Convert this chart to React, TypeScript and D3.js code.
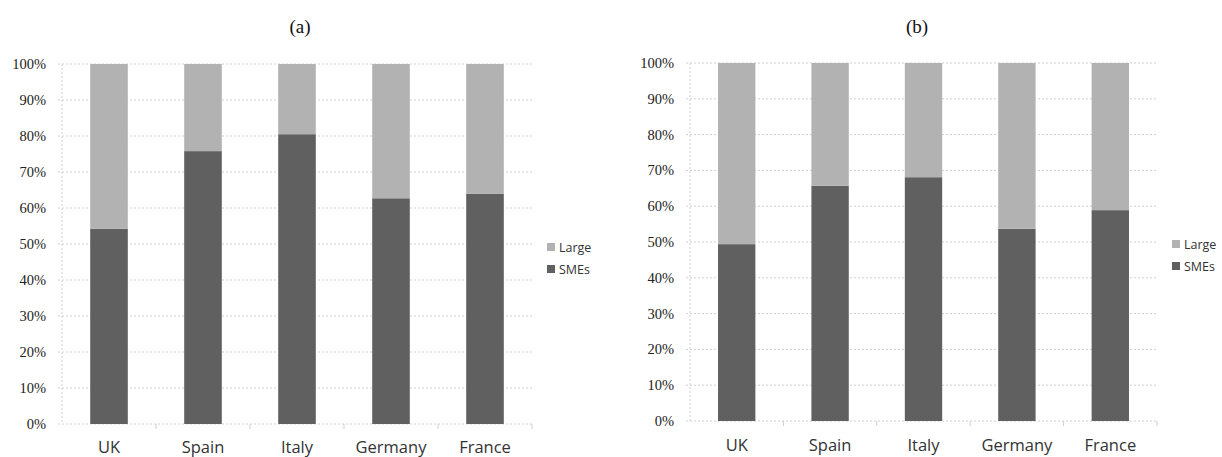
import React from "react";
import * as d3 from "d3";

const categories = ["UK", "Spain", "Italy", "Germany", "France"];
const smesA = [54.2, 75.8, 80.5, 62.7, 64.0];
const largeA = [45.8, 24.2, 19.5, 37.3, 36.0];
const smesB = [49.4, 65.7, 68.1, 53.7, 58.9];
const largeB = [50.6, 34.3, 31.9, 46.3, 41.1];
const yTicks = [0, 10, 20, 30, 40, 50, 60, 70, 80, 90, 100];
const seriesNames = ["SMEs", "Large"];
const colors = { SMEs: "#606060", Large: "#b2b2b2" };

type Cfg = {
  title: string;
  titleX: number;
  x0: number;
  x1: number;
  yTop: number;
  yBot: number;
  labelY: number;
  legendX: number;
  legendY: number;
  smes: number[];
  large: number[];
};

const panels: Cfg[] = [
  { title: "(a)", titleX: 300, x0: 62, x1: 532, yTop: 64, yBot: 424, labelY: 453, legendX: 547, legendY: 269, smes: smesA, large: largeA },
  { title: "(b)", titleX: 917, x0: 690, x1: 1157, yTop: 63, yBot: 421, labelY: 451, legendX: 1172, legendY: 266, smes: smesB, large: largeB },
];

function Panel({ cfg }: { cfg: Cfg }) {
  const x = d3.scaleBand<string>().domain(categories).range([cfg.x0, cfg.x1]).paddingInner(0.6).paddingOuter(0.3);
  const y = d3.scaleLinear().domain([0, 100]).range([cfg.yBot, cfg.yTop]);
  const rows = categories.map((c, i) => ({ cat: c, SMEs: cfg.smes[i], Large: cfg.large[i] }));
  const stack = d3.stack<any>().keys(seriesNames)(rows);
  const step = x.step();
  const grid = "#cfcfcf";
  return (
    <g>
      <text x={cfg.titleX} y={33} textAnchor="middle" fontFamily="'Liberation Serif', serif" fontSize={19} fill="#111">
        {cfg.title}
      </text>
      {yTicks.map((t) => (
        <g key={t}>
          <line x1={cfg.x0 - 4} x2={cfg.x1} y1={y(t)} y2={y(t)} stroke={grid} strokeWidth={1} strokeDasharray="2,2" />
          <text x={cfg.x0 - 16} y={y(t) + 5} textAnchor="end" fontFamily="'Liberation Serif', serif" fontSize={14.5} fill="#222">
            {t}%
          </text>
        </g>
      ))}
      <line x1={cfg.x0} x2={cfg.x0} y1={cfg.yTop} y2={cfg.yBot} stroke={grid} strokeDasharray="2,2" />
      {categories.map((c, i) => (
        <line key={c} x1={cfg.x0 + step * (i + 1)} x2={cfg.x0 + step * (i + 1)} y1={cfg.yBot} y2={cfg.yBot + 5} stroke={grid} />
      ))}
      {stack.map((s) => (
        <g key={s.key} fill={(colors as any)[s.key]}>
          {s.map((d: any) => (
            <rect key={d.data.cat} x={x(d.data.cat)} width={x.bandwidth()} y={y(d[1])} height={y(d[0]) - y(d[1])} />
          ))}
        </g>
      ))}
      {categories.map((c) => (
        <text key={c} x={(x(c) as number) + x.bandwidth() / 2} y={cfg.labelY} textAnchor="middle" fontFamily="'Open Sans', sans-serif" fontSize={16.5} fill="#333">
          {c}
        </text>
      ))}
      {["Large", "SMEs"].map((n, i) => (
        <g key={n}>
          <rect x={cfg.legendX} y={cfg.legendY - 22 + i * 22 - 4} width={8} height={8} fill={(colors as any)[n]} />
          <text x={cfg.legendX + 12} y={cfg.legendY - 22 + i * 22 + 4.5} fontFamily="'Open Sans', sans-serif" fontSize={12.5} fill="#333">
            {n}
          </text>
        </g>
      ))}
    </g>
  );
}

export default function App() {
  return (
    <svg width={1222} height={457} style={{ position: "absolute", left: 0, top: 0, background: "#fff" }}>
      <rect width={1222} height={457} fill="#fff" />
      {panels.map((p) => (
        <Panel key={p.title} cfg={p} />
      ))}
    </svg>
  );
}
